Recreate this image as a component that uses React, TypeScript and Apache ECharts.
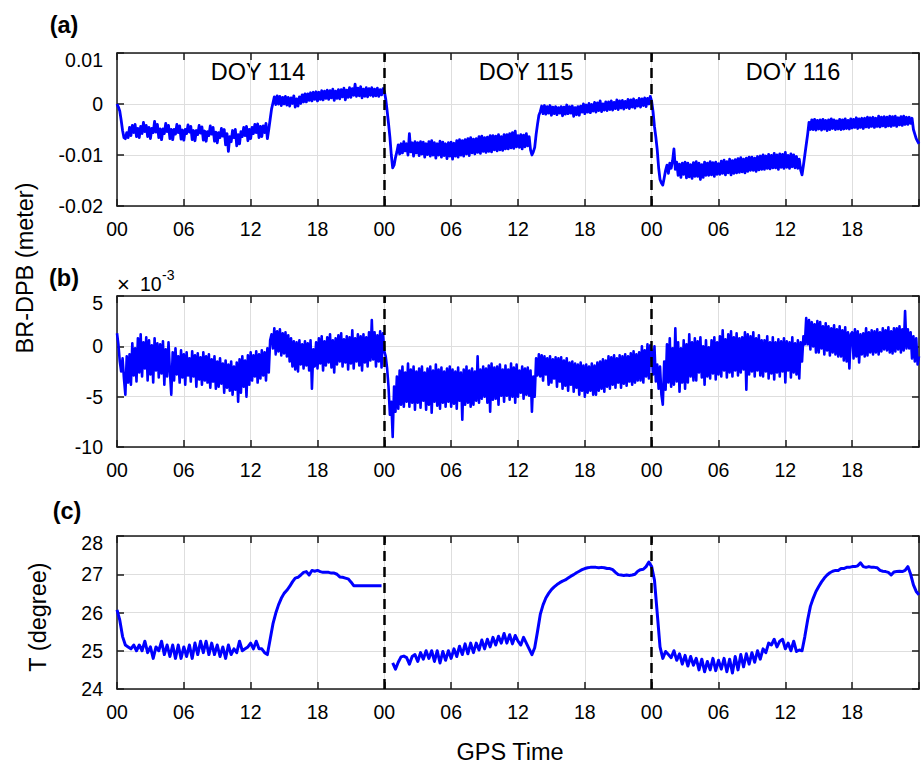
import React, { useEffect, useRef } from "react";
import * as echarts from "echarts";

// ---------------- data ----------------
const STEP_AB_H = 0.125; // sampling step (hours) of the BR-DPB arrays
const STEP_C_H = 0.25; // sampling step (hours) of the temperature arrays
const X_MAX_H = 72;
const dayBoundaries = [24, 48];
const dayLabels = ["DOY 114", "DOY 115", "DOY 116"];
const xTickLabels = ["00", "06", "12", "18"];
const yTicksA = ["-0.02", "-0.01", "0", "0.01"];
const yTicksB = ["-10", "-5", "0", "5"];
const yTicksC = ["24", "25", "26", "27", "28"];

// (a) BR-DPB in millimetres, every 7.5 min (one row = one hour)
const brdpbA114 = [
  0.0, -0.6, -1.4, -3.2, -5.2, -6.6, -6.8, -5.6,
  -6.6, -4.6, -6.2, -4.2, -5.6, -4.0, -6.4, -4.8,
  -6.6, -4.4, -5.8, -3.6, -5.4, -4.2, -6.4, -4.6,
  -6.8, -4.8, -5.6, -3.4, -5.5, -4.0, -6.6, -4.9,
  -7.0, -4.9, -5.8, -3.8, -5.4, -4.2, -6.8, -5.0,
  -7.0, -5.0, -5.9, -4.0, -5.6, -4.3, -6.9, -5.1,
  -7.1, -5.0, -5.8, -4.1, -5.5, -4.4, -7.0, -5.2,
  -7.2, -5.2, -6.0, -4.2, -5.7, -4.5, -7.1, -5.3,
  -7.3, -5.4, -6.2, -4.3, -5.9, -4.6, -7.3, -5.5,
  -7.6, -5.6, -6.6, -4.8, -6.3, -5.0, -8.0, -5.8,
  -9.3, -6.4, -7.4, -5.2, -6.6, -5.0, -8.2, -6.0,
  -7.8, -5.4, -6.4, -4.6, -6.2, -4.4, -7.2, -5.0,
  -6.8, -4.6, -5.8, -4.0, -5.6, -3.9, -6.6, -4.4,
  -6.4, -4.3, -5.6, -3.8, -6.8, -5.0, -3.0, -1.0,
  0.2, 1.4, -0.1, 1.6, 0.0, 1.5, -0.3, 1.3,
  0.0, 1.5, -0.2, 1.3, -0.4, 1.2, 0.1, 1.6,
  -0.6, 1.0, -0.4, 1.4, 0.1, 1.8, 0.4, 2.0,
  0.4, 2.0, 0.7, 2.2, 0.6, 2.3, 0.9, 2.4,
  0.6, 2.3, 0.9, 2.6, 0.8, 2.5, 1.1, 2.7,
  0.9, 2.6, 1.2, 2.9, 0.7, 2.5, 1.1, 2.8,
  1.0, 2.8, 1.4, 3.1, 0.8, 2.7, 1.3, 3.2,
  1.3, 3.0, 1.7, 3.9, 1.5, 3.1, 1.6, 3.4,
  1.2, 2.9, 1.5, 3.2, 1.4, 3.0, 1.7, 3.2,
  1.5, 2.9, 1.6, 3.1, 1.5, 2.8, 1.8, 3.0,
];
const brdpbA115 = [
  2.5, 1.0, -1.3, -3.8, -6.5, -10.0, -12.5, -12.0,
  -10.5, -9.4, -8.0, -9.8, -7.8, -9.6, -7.4, -9.2,
  -7.8, -10.0, -5.8, -9.4, -7.6, -10.2, -7.4, -9.6,
  -7.6, -10.1, -7.4, -9.8, -7.5, -10.4, -7.8, -9.9,
  -7.4, -10.2, -7.2, -10.0, -7.6, -10.6, -7.8, -10.0,
  -7.3, -10.4, -7.5, -10.1, -7.8, -10.7, -7.6, -10.2,
  -7.5, -10.8, -7.7, -10.2, -7.2, -10.4, -7.0, -10.0,
  -7.2, -10.2, -7.0, -9.8, -6.8, -10.1, -6.6, -9.6,
  -6.9, -9.8, -6.8, -9.5, -6.4, -9.7, -6.3, -9.3,
  -6.6, -9.5, -6.5, -9.3, -6.2, -9.4, -6.2, -9.0,
  -6.3, -9.2, -6.0, -9.0, -6.4, -9.1, -6.0, -8.8,
  -6.0, -8.8, -5.8, -8.6, -5.6, -8.7, -5.3, -8.4,
  -6.2, -8.5, -6.0, -8.8, -6.1, -8.4, -5.8, -8.2,
  -6.4, -9.0, -10.0, -9.4, -8.5, -6.0, -4.0, -2.2,
  -1.5, -0.4, -1.9, -0.3, -2.0, -0.5, -1.8, -0.3,
  -2.2, -0.6, -1.9, -0.5, -2.1, -0.7, -1.8, -0.5,
  -2.3, -0.6, -2.0, -0.2, -1.9, -0.5, -1.8, -0.4,
  -2.4, -0.7, -2.1, -0.5, -2.2, -0.4, -1.6, 0.0,
  -1.9, -0.2, -1.6, 0.1, -1.7, -0.1, -1.4, 0.3,
  -1.6, 0.2, -1.3, 0.6, -1.5, 0.0, -1.2, 0.4,
  -1.3, 0.4, -1.1, 0.6, -1.2, 0.3, -0.9, 0.8,
  -1.1, 0.6, -0.8, 0.7, -1.0, 0.5, -0.7, 0.9,
  -0.9, 0.8, -0.6, 1.0, -0.8, 0.7, -0.4, 1.1,
  -0.6, 1.0, -0.3, 1.2, -0.5, 1.1, 0.0, 1.5,
];
const brdpbA116 = [
  0.5, -1.5, -4.4, -6.5, -9.0, -12.5, -14.8, -15.5,
  -15.9, -14.5, -13.0, -12.0, -13.6, -11.6, -12.6, -11.2,
  -8.8, -12.8, -11.4, -14.0, -11.8, -14.4, -11.6, -13.8,
  -11.4, -14.5, -11.6, -14.3, -11.9, -14.6, -11.5, -14.2,
  -11.3, -14.2, -11.6, -14.8, -11.9, -14.4, -11.4, -14.0,
  -11.6, -14.0, -11.3, -13.9, -11.5, -14.2, -11.4, -13.8,
  -11.7, -13.8, -11.2, -13.6, -11.0, -13.9, -11.3, -13.5,
  -10.8, -13.9, -11.1, -13.6, -10.9, -13.5, -10.7, -13.4,
  -10.5, -13.3, -10.8, -13.5, -10.6, -13.2, -10.4, -13.0,
  -10.4, -13.0, -10.6, -13.2, -10.3, -12.9, -10.2, -12.8,
  -10.0, -12.8, -10.2, -12.6, -9.9, -12.7, -10.1, -12.5,
  -9.7, -12.5, -10.0, -12.8, -9.8, -12.4, -9.9, -12.6,
  -9.5, -12.4, -10.1, -12.6, -9.8, -12.3, -10.0, -12.5,
  -10.3, -12.6, -10.8, -12.9, -13.9, -12.0, -10.0, -8.0,
  -6.0, -3.6, -5.0, -3.1, -5.0, -3.0, -5.1, -3.2,
  -4.9, -3.1, -5.1, -3.0, -4.9, -3.2, -5.2, -3.1,
  -5.0, -2.9, -4.8, -3.1, -5.0, -3.3, -4.9, -3.0,
  -5.0, -3.1, -4.9, -2.9, -4.8, -3.2, -4.9, -2.9,
  -4.7, -3.0, -4.6, -2.7, -4.8, -2.9, -4.6, -2.8,
  -4.8, -2.8, -4.5, -2.6, -4.6, -2.7, -4.4, -2.6,
  -4.6, -2.8, -4.4, -2.4, -4.5, -2.6, -4.3, -2.5,
  -4.5, -2.6, -4.3, -2.4, -4.4, -2.5, -4.2, -2.4,
  -4.4, -2.7, -4.1, -2.5, -4.2, -2.4, -4.0, -2.6,
  -4.0, -2.6, -3.8, -2.8, -5.0, -5.9, -6.8, -7.3,
  -7.8,
];

// (b) BR-DPB in units of 1e-3 m, every 7.5 min (one row = one hour)
const brdpbB114 = [
  1.3, 0.2, -1.5, -2.5, -1.2, -3.2, -4.8, -1.0,
  -3.6, -0.8, -3.8, 0.3, -2.9, -0.2, -3.5, 0.8,
  -2.6, 1.2, -3.0, 0.4, -2.2, 0.9, -3.4, 0.6,
  -2.8, 0.1, -3.6, 0.8, -2.4, 0.3, -3.1, 0.2,
  -2.7, 0.5, -3.8, -0.3, -3.0, 0.4, -2.5, -4.8,
  -0.6, -3.4, -0.2, -2.8, -1.0, -3.6, -0.4, -3.1,
  -0.8, -3.8, -0.6, -2.9, -1.2, -3.5, -0.5, -3.0,
  -0.9, -4.0, -0.7, -3.3, -1.1, -3.8, -0.6, -3.4,
  -1.0, -3.6, -0.8, -4.1, -1.3, -3.5, -1.0, -4.2,
  -1.5, -4.0, -1.2, -3.7, -1.7, -4.6, -1.4, -4.1,
  -1.8, -4.4, -1.5, -4.8, -2.0, -4.3, -1.6, -5.5,
  -1.3, -4.6, -1.0, -4.0, -1.4, -5.0, -0.9, -3.8,
  -0.6, -3.4, -0.9, -3.0, -0.5, -3.6, -0.8, -3.2,
  -0.4, -2.9, -0.6, -3.4, -0.2, -2.6, 0.6, 1.2,
  -0.2, 1.8, -0.8, 1.5, -0.5, 1.7, -0.9, 1.3,
  -0.7, 1.4, -1.0, 1.1, -1.5, 0.8, -2.0, 0.5,
  -2.3, 0.4, -2.5, 0.6, -1.8, 0.2, -2.2, 0.5,
  -1.9, 0.3, -2.4, 0.6, -4.2, -0.3, -2.0, 0.4,
  -2.2, 0.8, -1.7, 1.0, -2.4, 0.5, -1.9, 0.9,
  -1.6, 1.2, -2.1, 0.6, -2.6, 0.8, -1.8, 1.1,
  -1.5, 1.3, -2.0, 0.7, -1.6, 1.0, -2.3, 0.9,
  -1.7, 1.6, -2.2, 0.8, -1.5, 1.2, -1.9, 1.0,
  -2.4, 1.2, -1.6, 0.9, -2.0, 1.4, -1.4, 2.6,
  -1.3, 1.4, -2.0, 1.1, -1.5, 1.5, -2.1, 1.3,
];
const brdpbB115 = [
  -0.5, -1.0, -2.2, -4.0, -6.8, -5.5, -9.0, -4.0,
  -6.5, -3.0, -6.2, -2.4, -5.8, -2.0, -6.0, -2.6,
  -5.5, -1.7, -6.0, -2.3, -5.6, -2.0, -6.3, -2.5,
  -5.6, -2.2, -6.1, -2.0, -5.4, -2.6, -6.3, -2.2,
  -5.8, -2.0, -6.6, -2.4, -5.5, -1.8, -5.9, -2.3,
  -6.2, -2.1, -5.6, -2.5, -6.0, -2.2, -5.5, -2.0,
  -6.0, -2.3, -5.7, -2.5, -6.2, -2.1, -5.4, -2.6,
  -7.3, -2.3, -5.8, -2.0, -5.6, -2.4, -6.0, -2.2,
  -5.8, -2.5, -5.4, -1.0, -5.6, -2.3, -5.2, -2.0,
  -5.0, -2.2, -5.6, -1.9, -6.5, -1.7, -5.3, -2.1,
  -5.2, -2.0, -5.8, -1.8, -4.9, -2.3, -5.5, -1.9,
  -4.9, -2.3, -5.3, -1.7, -5.0, -2.1, -5.6, -1.8,
  -5.0, -2.4, -4.6, -2.0, -5.2, -2.2, -4.8, -2.1,
  -4.9, -2.4, -6.5, -3.0, -5.0, -1.2, -2.9, -0.8,
  -3.0, -0.9, -3.4, -1.0, -2.8, -1.2, -3.8, -1.0,
  -3.6, -1.3, -3.2, -1.1, -4.0, -1.2, -3.5, -1.1,
  -4.2, -1.4, -3.9, -1.2, -4.4, -1.6, -3.8, -1.5,
  -4.5, -1.7, -4.1, -1.8, -4.8, -1.6, -4.4, -1.9,
  -5.0, -1.8, -4.6, -2.0, -4.4, -1.7, -4.8, -1.9,
  -4.8, -1.6, -4.4, -1.5, -4.2, -1.3, -4.5, -1.4,
  -4.0, -1.0, -4.2, -1.1, -3.8, -0.9, -4.1, -1.2,
  -3.6, -0.9, -4.1, -1.0, -3.7, -0.8, -3.9, -1.0,
  -3.5, -0.7, -3.8, -0.5, -3.6, -0.8, -3.4, -0.6,
  -3.4, 0.0, -3.6, -0.4, -3.0, 0.2, -3.2, 0.1,
];
const brdpbB116 = [
  -0.5, -2.8, 0.0, -3.5, -1.8, -4.2, -2.0, -4.8,
  -5.8, -1.5, -4.3, 0.2, -3.6, 0.8, -4.0, -0.2,
  -3.8, 1.8, -3.5, 0.4, -4.5, -0.2, -3.6, 0.6,
  -4.2, 0.2, -3.6, 1.2, -3.0, 0.4, -3.4, 0.8,
  -3.4, 0.5, -2.6, 0.9, -3.1, 0.0, -3.8, 0.6,
  -3.0, -0.1, -3.2, 0.6, -2.7, 0.9, -3.3, 0.4,
  -2.8, 1.0, -3.0, 1.6, -2.4, 0.7, -3.1, 1.2,
  -2.6, 1.5, -3.0, 0.9, -2.4, 1.3, -2.9, 0.8,
  -2.6, 0.9, -2.3, 1.4, -4.3, 1.2, -2.8, 1.0,
  -2.5, 1.4, -3.0, 0.8, -2.4, 1.1, -2.9, 0.6,
  -3.0, 0.6, -2.5, 1.0, -3.2, 0.4, -2.7, 0.9,
  -3.3, 0.4, -2.6, 0.7, -3.0, 0.5, -2.5, 0.8,
  -3.6, 0.5, -2.4, 0.4, -3.1, 0.9, -2.6, 0.3,
  -2.8, 0.6, -3.2, 0.4, -1.5, 1.0, 0.2, 2.8,
  0.2, 2.6, -0.3, 2.4, 0.0, 2.2, -0.6, 2.5,
  -0.6, 2.4, -0.2, 2.0, -0.8, 2.3, -0.4, 2.0,
  -0.9, 1.8, -0.6, 2.1, -0.8, 1.7, -1.0, 2.0,
  -1.0, 1.6, -1.4, 1.9, -1.5, 1.4, -2.2, 1.2,
  1.4, -1.2, 1.7, -1.0, 1.5, -1.6, 1.2, -0.8,
  1.3, -1.0, 1.8, -0.9, 1.4, -0.6, 1.6, -0.8,
  1.5, -0.6, 1.7, -0.8, 1.4, -0.5, 1.8, -0.3,
  1.6, -0.4, 1.9, -0.6, 1.5, -0.7, 1.8, -0.5,
  1.8, -0.3, 2.0, -0.6, 1.7, -0.4, 3.5, -0.2,
  1.7, -0.2, 1.4, -1.2, 1.0, -1.5, 0.8, -1.8,
  -1.0,
];

// (c) temperature in degrees, every 15 min (one row = two hours)
const temp114 = [
  26.07, 25.8, 25.37, 25.15, 25.1, 25.05, 25.15, 25.0,
  25.15, 25.0, 25.25, 24.95, 25.1, 24.8, 25.1, 25.0,
  25.25, 24.9, 25.15, 24.85, 25.15, 24.8, 25.15, 24.8,
  25.1, 24.85, 25.15, 24.8, 25.2, 24.9, 25.25, 24.95,
  25.25, 24.9, 25.2, 24.9, 25.15, 24.85, 25.1, 24.8,
  25.15, 24.9, 25.05, 24.95, 25.25, 25.0, 25.05, 25.1,
  25.2, 25.05, 25.25, 25.05, 25.05, 24.95, 24.9, 25.3,
  25.7, 25.98, 26.2, 26.37, 26.5, 26.58, 26.68, 26.8,
  26.9, 26.92, 26.98, 27.05, 27.07, 26.98, 27.1, 27.08,
  27.1, 27.07, 27.05, 27.05, 27.05, 27.03, 27.03, 27.0,
  26.93, 26.92, 26.9, 26.88, 26.8, 26.7, 26.7, 26.7,
  26.7, 26.7, 26.7, 26.7, 26.7, 26.7, 26.7, 26.7,
];
const temp115 = [
  null, null, null, 24.68, 24.52, 24.7, 24.84, 24.86,
  24.82, 24.65, 24.85, 24.9, 24.72, 24.95, 24.78, 25.0,
  24.8, 25.0, 24.72, 25.0, 24.68, 24.98, 24.75, 25.0,
  24.8, 25.05, 24.85, 25.12, 24.9, 25.18, 24.92, 25.2,
  24.95, 25.2, 25.02, 25.28, 25.05, 25.3, 25.1, 25.35,
  25.15, 25.38, 25.2, 25.45, 25.2, 25.42, 25.18, 25.4,
  25.25, 25.15, 25.35, 25.2, 25.05, 24.9, 25.08, 25.5,
  25.95, 26.2, 26.38, 26.5, 26.6, 26.67, 26.73, 26.78,
  26.82, 26.85, 26.9, 26.95, 26.99, 27.04, 27.08, 27.12,
  27.15, 27.17, 27.18, 27.18, 27.18, 27.17, 27.18, 27.17,
  27.15, 27.15, 27.12, 27.05, 26.99, 26.98, 26.97, 26.98,
  26.97, 26.98, 27.0, 27.08, 27.12, 27.13, 27.2, 27.32,
];
const temp116 = [
  27.2, 26.85, 25.98, 25.1, 24.8, 24.98, 24.9, 24.82,
  25.0, 24.75, 24.92, 24.65, 24.88, 24.6, 24.85, 24.62,
  24.8, 24.5, 24.78, 24.45, 24.72, 24.5, 24.8, 24.48,
  24.75, 24.52, 24.8, 24.45, 24.78, 24.42, 24.85, 24.5,
  24.9, 24.58, 24.92, 24.65, 24.95, 24.7, 25.0, 24.78,
  25.05, 24.95, 25.2, 25.15, 25.3, 25.1, 25.25, 25.3,
  25.05, 25.2, 25.0, 25.25, 24.98, 25.02, 25.0, 25.37,
  25.8, 26.16, 26.37, 26.55, 26.68, 26.8, 26.9, 26.98,
  27.04, 27.08, 27.1, 27.1, 27.15, 27.15, 27.18, 27.18,
  27.2, 27.2, 27.22, 27.3, 27.2, 27.18, 27.2, 27.18,
  27.18, 27.17, 27.1, 27.08, 27.07, 27.05, 26.98, 27.06,
  27.07, 27.08, 27.07, 27.1, 27.2, 27.0, 26.72, 26.55,
  26.46,
];

// ---------------- chart ----------------
const FONT = "'Liberation Sans', Arial, Helvetica, sans-serif";
const AXIS_COLOR = "#1a1a1a";
const GRID_COLOR = "#dedede";
const LINE_COLOR = "#0000ff";
const TICK_FS = 19.5;
const TITLE_FS = 23.5;

const toPairs = (vals: (number | null)[], step: number, scale: number) =>
  vals.map((v, i) => [i * step, v == null ? null : v * scale]);

const panels = [
  { top: 53, height: 153, min: -0.02, max: 0.01, interval: 0.01, ticks: yTicksA, width: 2.8, data: toPairs([...brdpbA114, ...brdpbA115, ...brdpbA116], STEP_AB_H, 0.001) },
  { top: 296, height: 151, min: -10, max: 5, interval: 5, ticks: yTicksB, width: 2.6, data: toPairs([...brdpbB114, ...brdpbB115, ...brdpbB116], STEP_AB_H, 1) },
  { top: 536, height: 153, min: 24, max: 28, interval: 1, ticks: yTicksC, width: 3, data: toPairs([...temp114, ...temp115, ...temp116], STEP_C_H, 1) },
];

const PLOT_LEFT = 117;
const PLOT_WIDTH = 802;

function buildOption() {
  const grid = panels.map((p) => ({ left: PLOT_LEFT, width: PLOT_WIDTH, top: p.top, height: p.height, containLabel: false }));
  const lineStyle = { color: AXIS_COLOR, width: 1.5 };
  const xAxis: any[] = [];
  const yAxis: any[] = [];
  panels.forEach((p, gi) => {
    xAxis.push({
      type: "value", gridIndex: gi, position: "bottom", min: 0, max: X_MAX_H, interval: 6,
      axisLine: { show: true, onZero: false, lineStyle },
      axisTick: { show: true, inside: true, length: 7, lineStyle },
      axisLabel: {
        show: true, color: "#000", fontSize: TICK_FS, fontFamily: FONT, margin: 13,
        formatter: (v: number) => (v >= X_MAX_H - 1e-6 ? "" : xTickLabels[Math.round(v / 6) % 4]),
      },
      splitLine: { show: true, lineStyle: { color: GRID_COLOR, width: 1 } },
    });
    xAxis.push({
      type: "value", gridIndex: gi, position: "top", min: 0, max: X_MAX_H, interval: 6,
      axisLine: { show: true, onZero: false, lineStyle },
      axisTick: { show: true, inside: true, length: 7, lineStyle },
      axisLabel: { show: false },
      splitLine: { show: false },
    });
    yAxis.push({
      type: "value", gridIndex: gi, position: "left", min: p.min, max: p.max, interval: p.interval,
      axisLine: { show: true, onZero: false, lineStyle },
      axisTick: { show: true, inside: true, length: 7, lineStyle },
      axisLabel: {
        show: true, color: "#000", fontSize: TICK_FS, fontFamily: FONT, margin: 14,
        formatter: (v: number) => {
          const idx = Math.round((v - p.min) / p.interval);
          const s = p.ticks[idx] ?? "";
          return idx === p.ticks.length - 1 ? `{top|${s}}` : s;
        },
        rich: { top: { fontSize: TICK_FS, fontFamily: FONT, color: "#000", padding: [13, 0, 0, 0] } },
      },
      splitLine: { show: true, lineStyle: { color: GRID_COLOR, width: 1 } },
    });
    yAxis.push({
      type: "value", gridIndex: gi, position: "right", min: p.min, max: p.max, interval: p.interval,
      axisLine: { show: true, onZero: false, lineStyle },
      axisTick: { show: true, inside: true, length: 7, lineStyle },
      axisLabel: { show: false },
      splitLine: { show: false },
    });
  });

  const series = panels.map((p, gi) => ({
    type: "line",
    xAxisIndex: gi * 2,
    yAxisIndex: gi * 2,
    data: p.data,
    showSymbol: false,
    symbol: "none",
    connectNulls: false,
    clip: true,
    lineStyle: { color: LINE_COLOR, width: p.width, join: "round" },
    itemStyle: { color: LINE_COLOR },
    markLine: {
      silent: true,
      symbol: ["none", "none"],
      label: { show: false },
      lineStyle: { color: "#000", type: [10, 6], width: 2.5 },
      data: dayBoundaries.map((x) => ({ xAxis: x })),
    },
  }));

  const txt = (x: number, y: number, text: string, fontSize: number, extra: any = {}) => ({
    type: "text", x, y, ...extra,
    style: { text, fontSize, fontFamily: FONT, fill: "#000", textAlign: "center", textVerticalAlign: "middle", ...(extra.style || {}) },
  });

  const graphic = [
    txt(64, 25, "(a)", TITLE_FS, { style: { fontWeight: "bold" } }),
    txt(64, 278, "(b)", TITLE_FS, { style: { fontWeight: "bold" } }),
    txt(67, 511, "(c)", TITLE_FS, { style: { fontWeight: "bold" } }),
    txt(258, 72, dayLabels[0], TITLE_FS),
    txt(526, 72, dayLabels[1], TITLE_FS),
    txt(793, 72, dayLabels[2], TITLE_FS),
    txt(510, 752, "GPS Time", TITLE_FS),
    txt(25, 268, "BR-DPB (meter)", TITLE_FS, { rotation: Math.PI / 2 }),
    txt(38, 617, "T (degree)", TITLE_FS, { rotation: Math.PI / 2 }),
    txt(123.5, 284, "×", 22),
    { type: "text", x: 140, y: 284, style: { text: "10", fontSize: TICK_FS, fontFamily: FONT, fill: "#000", textAlign: "left", textVerticalAlign: "middle" } },
    { type: "text", x: 162, y: 275, style: { text: "-3", fontSize: 14, fontFamily: FONT, fill: "#000", textAlign: "left", textVerticalAlign: "middle" } },
  ];

  return { animation: false, backgroundColor: "#fff", grid, xAxis, yAxis, series, graphic };
}

export default function App() {
  const ref = useRef<HTMLDivElement>(null);
  useEffect(() => {
    if (!ref.current) return;
    const chart = echarts.init(ref.current, undefined, { renderer: "svg" });
    chart.setOption(buildOption() as any);
    return () => chart.dispose();
  }, []);
  return <div ref={ref} style={{ position: "fixed", left: 0, top: 0, width: 922, height: 769, background: "#fff" }} />;
}
